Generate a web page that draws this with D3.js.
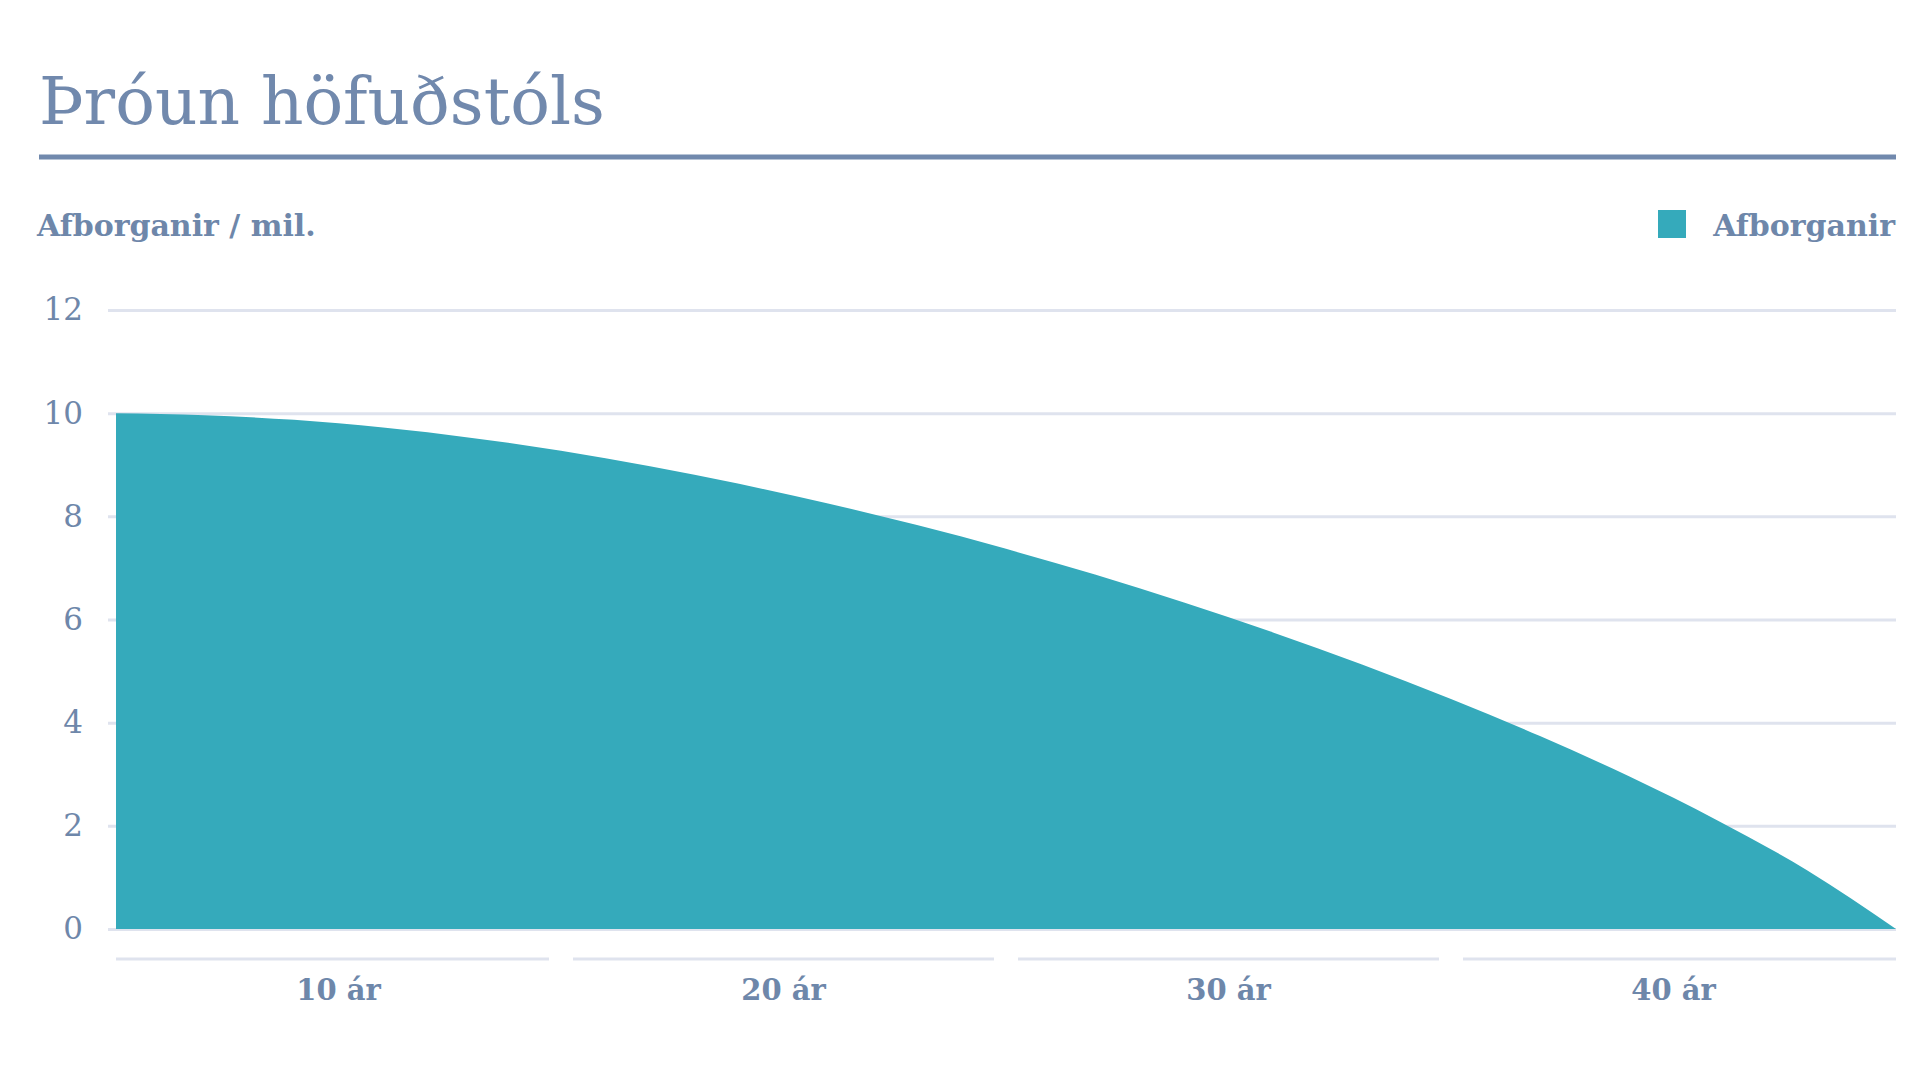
<!DOCTYPE html>
<html>
<head>
<meta charset="utf-8">
<script src="https://cdn.jsdelivr.net/npm/d3@7"></script>
<style>
  body { margin: 0; background: #fff; }
  svg text { font-family: "DejaVu Serif", serif; }
</style>
</head>
<body>
<svg id="chart"></svg>
<script>
// remaining principal (millions), every 2 years
var years = [0, 2, 4, 6, 8, 10, 12, 14, 16, 18, 20, 22, 24, 26, 28, 30, 32, 34, 36, 38, 40];
var principal = [10, 9.96, 9.87, 9.72, 9.52, 9.27, 8.97, 8.63, 8.25, 7.83, 7.37,
                 6.87, 6.33, 5.75, 5.13, 4.46, 3.74, 2.96, 2.10, 1.14, 0];
var yTicks = [0, 2, 4, 6, 8, 10, 12];
var xLabels = ['10 ár', '20 ár', '30 ár', '40 ár'];

var width = 1920;
var height = 1080;
var textColor = '#6e87aa';
var gridColor = '#dfe3ee';
var fillColor = '#35aabb';

var data = years.map(function(d, i){ return {year: d, value: principal[i]}; });

var svg = d3.select('#chart')
  .attr('width', width)
  .attr('height', height);

// title + rule
svg.append('text')
  .attr('x', 39)
  .attr('y', 124)
  .style('font-size', '66px')
  .style('fill', '#7189ad')
  .text('Þróun höfuðstóls');

svg.append('line')
  .attr('x1', 39).attr('x2', 1896)
  .attr('y1', 157).attr('y2', 157)
  .attr('stroke', '#7189ad')
  .attr('stroke-width', 5);

// axis title and legend
svg.append('text')
  .attr('x', 37)
  .attr('y', 236)
  .style('font-size', '30px')
  .style('font-weight', 'bold')
  .style('fill', textColor)
  .text('Afborganir / mil.');

svg.append('rect')
  .attr('x', 1658).attr('y', 210)
  .attr('width', 28).attr('height', 28)
  .attr('fill', fillColor);

svg.append('text')
  .attr('x', 1895)
  .attr('y', 236)
  .attr('text-anchor', 'end')
  .style('font-size', '30px')
  .style('font-weight', 'bold')
  .style('fill', textColor)
  .text('Afborganir');

var x = d3.scaleLinear()
  .domain([0, 40])
  .range([116, 1896]);

var y = d3.scaleLinear()
  .domain([0, 12])
  .range([929, 310]);

// gridlines with the tick labels
var yAxis = svg.append('g')
  .attr('transform', 'translate(108,0)')
  .call(d3.axisLeft(y)
    .tickValues(yTicks)
    .tickSize(-(1896 - 108))
    .tickPadding(25));

yAxis.select('.domain').remove();
yAxis.selectAll('line')
  .attr('stroke', gridColor)
  .attr('stroke-width', 3);
yAxis.selectAll('text')
  .style('font-family', '"DejaVu Serif", serif')
  .style('font-size', '31px')
  .style('fill', textColor);

var area = d3.area()
  .x(d => x(d.year))
  .y0(y(0))
  .y1(d => y(d.value))
  .curve(d3.curveMonotoneX);

svg.append('path')
  .datum(data)
  .attr('d', area)
  .attr('fill', fillColor);

// x bands: a short rule over each label, gaps only between bands
var band = d3.scaleBand()
  .domain(xLabels)
  .range([116, 1896]);

var gap = 12;
var last = xLabels.length - 1;

var xg = svg.append('g').selectAll('g')
  .data(xLabels)
  .enter()
  .append('g');

xg.append('line')
  .attr('x1', (d, i) => band(d) + (i > 0 ? gap : 0))
  .attr('x2', (d, i) => band(d) + band.bandwidth() - (i < last ? gap : 0))
  .attr('y1', 959).attr('y2', 959)
  .attr('stroke', gridColor)
  .attr('stroke-width', 3);

xg.append('text')
  .attr('x', d => band(d) + band.bandwidth() / 2)
  .attr('y', 1000)
  .attr('text-anchor', 'middle')
  .style('font-size', '29px')
  .style('font-weight', 'bold')
  .style('fill', textColor)
  .text(d => d);
</script>
</body>
</html>
